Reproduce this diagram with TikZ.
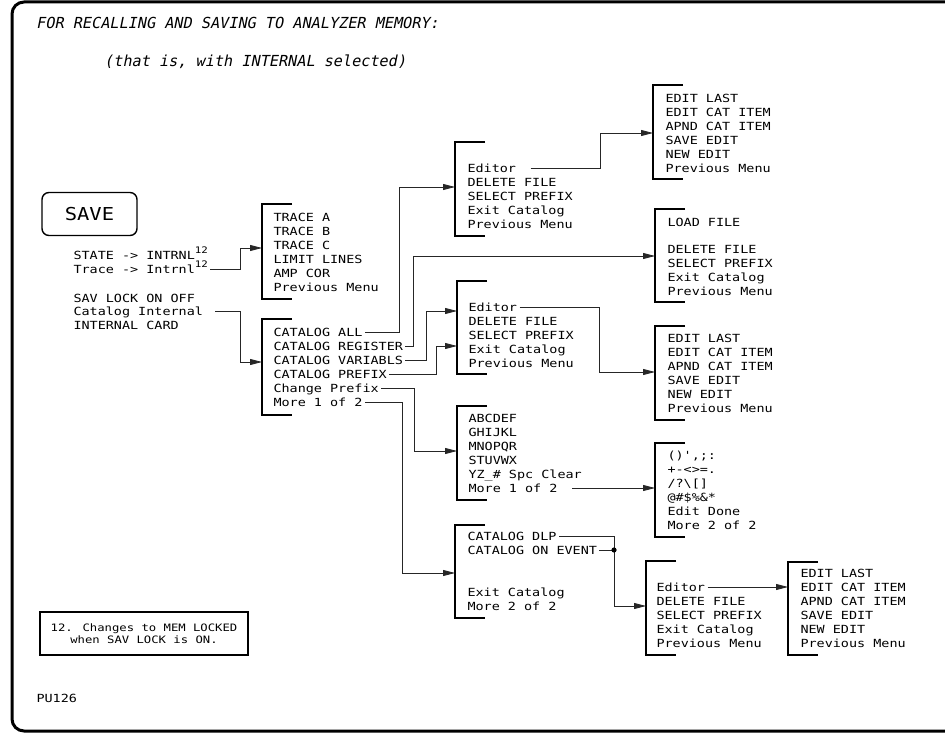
\documentclass[tikz,border=0pt]{standalone}
\usepackage{fontspec}
\newfontfamily\menufont[FakeStretch=1.2]{DejaVu Sans Mono}
\newfontfamily\titlefont[FakeSlant=0.2]{DejaVu Sans Mono}
\newfontfamily\keyfont[FakeStretch=1.15]{DejaVu Sans Mono}
\usetikzlibrary{arrows.meta}

\tikzset{
  item/.style={anchor=west, inner sep=0pt, outer xsep=2.5pt, text height=8.2pt, text depth=0pt,
    font=\menufont\fontsize{11.2pt}{14pt}\selectfont},
  titletext/.style={anchor=west, inner sep=0pt, text height=11pt, text depth=0pt,
    font=\titlefont\fontsize{15.2pt}{17pt}\selectfont},
  conn/.style={line width=0.8pt, black!85, -{Triangle[length=12pt,width=6pt]}},
  wire/.style={line width=0.8pt, black!85},
  bracket/.style={line width=2.4pt},
  savekey/.style={draw, line width=1.4pt, rounded corners=7pt, minimum width=95pt, minimum height=43pt,
    font=\keyfont\fontsize{17.8pt}{20pt}\selectfont},
  note/.style={draw, line width=1.6pt, minimum width=208pt, minimum height=43pt, align=center,
    font=\menufont\fontsize{10.2pt}{12.5pt}\selectfont},
}
\newcommand{\supnote}[1]{\raisebox{5.5pt}{\fontsize{9pt}{9pt}\selectfont #1}}

\begin{document}
\begin{tikzpicture}[x=1pt, y=-1pt]
  \useasboundingbox (0,0) rectangle (945,733);
  % outer frame, open on the right
  \draw[line width=3pt, rounded corners=12pt] (948,2) -- (12,2) -- (12,731) -- (948,731);

  \node[titletext] (title1) at (36,23) {FOR RECALLING AND SAVING TO ANALYZER MEMORY:};
  \node[titletext] (title2) at (104,61) {(that is, with INTERNAL selected)};

  % save key and its softkeys
  \node[savekey] (save) at (89.5,214) {SAVE};
  \node[item] (st1) at (71,255) {STATE -> INTRNL\supnote{12}};
  \node[item] (st2) at (71,269) {Trace -> Intrnl\supnote{12}};
  \node[item] (st3) at (71,298) {SAV LOCK ON OFF};
  \node[item] (st4) at (71,311) {Catalog Internal};
  \node[item] (st5) at (71,325) {INTERNAL CARD};

  % trace menu
  \draw[bracket] (292,204) -- (262,204) -- (262,299) -- (292,299);
  \coordinate (mtr) at (262,248);
  \foreach \t [count=\i] in {TRACE A,TRACE B,TRACE C,LIMIT LINES,AMP COR,Previous Menu}
    \node[item] (tr\i) at (271,{203+14*\i}) {\t};

  % catalog menu
  \draw[bracket] (292,319) -- (262,319) -- (262,415) -- (292,415);
  \coordinate (mca) at (262,362);
  \foreach \t [count=\i] in {CATALOG ALL,CATALOG REGISTER,CATALOG VARIABLS,CATALOG PREFIX,Change Prefix,More 1 of 2}
    \node[item] (ca\i) at (271,{318+14*\i}) {\t};

  % editor menu (catalog all)
  \draw[bracket] (485,142) -- (455,142) -- (455,236) -- (485,236);
  \coordinate (med) at (455,187);
  \foreach \t [count=\i] in {Editor,DELETE FILE,SELECT PREFIX,Exit Catalog,Previous Menu}
    \node[item] (ed\i) at (465,{154+14*\i}) {\t};

  % edit menu, top
  \draw[bracket] (683,85) -- (653,85) -- (653,179) -- (683,179);
  \coordinate (mel) at (653,133);
  \foreach \t [count=\i] in {EDIT LAST,EDIT CAT ITEM,APND CAT ITEM,SAVE EDIT,NEW EDIT,Previous Menu}
    \node[item] (el\i) at (663,{84+14*\i}) {\t};

  % load menu
  \draw[bracket] (685,209) -- (655,209) -- (655,302) -- (685,302);
  \coordinate (mld) at (655,256);
  \foreach \y/\t [count=\i] in {222/LOAD FILE,249/DELETE FILE,263/SELECT PREFIX,277/Exit Catalog,291/Previous Menu}
    \node[item] (ld\i) at (665,\y) {\t};

  % editor menu (register, variables)
  \draw[bracket] (487,281) -- (457,281) -- (457,374) -- (487,374);
  \coordinate (mvaa) at (457,311);
  \coordinate (mvab) at (457,346);
  \foreach \t [count=\i] in {Editor,DELETE FILE,SELECT PREFIX,Exit Catalog,Previous Menu}
    \node[item] (ev\i) at (466,{293+14*\i}) {\t};

  % edit menu, middle
  \draw[bracket] (685,326) -- (655,326) -- (655,420) -- (685,420);
  \coordinate (mem) at (655,372);
  \foreach \t [count=\i] in {EDIT LAST,EDIT CAT ITEM,APND CAT ITEM,SAVE EDIT,NEW EDIT,Previous Menu}
    \node[item] (em\i) at (665,{324+14*\i}) {\t};

  % prefix letters
  \draw[bracket] (487,406) -- (457,406) -- (457,500) -- (487,500);
  \coordinate (mab) at (457,451);
  \foreach \t [count=\i] in {ABCDEF,GHIJKL,MNOPQR,STUVWX,YZ\_\# Spc Clear,More 1 of 2}
    \node[item] (ab\i) at (466,{404+14*\i}) {\t};

  % prefix symbols
  \draw[bracket] (685,443) -- (655,443) -- (655,537) -- (685,537);
  \coordinate (msy) at (655,489);
  \foreach \t [count=\i] in {{()',;:},{+-<>=.},{/?\textbackslash[]},{@\#\$\%\&*},Edit Done,More 2 of 2}
    \node[item] (sy\i) at (665,{441+14*\i}) {\t};

  % catalog more 2 of 2
  \draw[bracket] (485,525) -- (455,525) -- (455,618) -- (485,618);
  \coordinate (mdl) at (455,573);
  \foreach \y/\t [count=\i] in {536/CATALOG DLP,550/CATALOG ON EVENT,592/Exit Catalog,606/More 2 of 2}
    \node[item] (dl\i) at (465,\y) {\t};

  % editor menu, bottom
  \draw[bracket] (676,561) -- (646,561) -- (646,655) -- (676,655);
  \coordinate (meb) at (646,606);
  \foreach \t [count=\i] in {Editor,DELETE FILE,SELECT PREFIX,Exit Catalog,Previous Menu}
    \node[item] (eb\i) at (654,{573+14*\i}) {\t};

  % edit menu, bottom
  \draw[bracket] (818,562) -- (788,562) -- (788,655) -- (818,655);
  \foreach \t [count=\i] in {EDIT LAST,EDIT CAT ITEM,APND CAT ITEM,SAVE EDIT,NEW EDIT,Previous Menu}
    \node[item] (ez\i) at (798,{559+14*\i}) {\t};
  \coordinate (mez) at (788,587);

  % connectors
  \draw[conn] (st2.east) -| ([xshift=-22pt]mtr) -- (mtr);
  \draw[conn] ([xshift=10pt]st4.east) -| ([xshift=-22pt]mca) -- (mca);
  \draw[conn] (ca1.east) -| ([xshift=-56pt]med) -- (med);
  \draw[conn] (ca2.east) -| ([xshift=-242pt]mld) -- (mld);
  \draw[conn] (ca3.east) -| ([xshift=-31pt]mvaa) -- (mvaa);
  \draw[conn] (ca4.east) -| ([xshift=-21pt]mvab) -- (mvab);
  \draw[conn] (ca5.east) -| ([xshift=-43pt]mab) -- (mab);
  \draw[conn] (ca6.east) -| ([xshift=-53pt]mdl) -- (mdl);
  \draw[conn] ([xshift=12pt]ed1.east) -| ([xshift=-53pt]mel) -- (mel);
  \draw[conn] (ev1.east) -| ([xshift=-56pt]mem) -- (mem);
  \draw[conn] ([xshift=12pt]ab6.east) -- (ab6.east -| msy);
  \draw[conn] (dl1.east) -| ([xshift=-32pt]meb) -- (meb);
  \coordinate (join) at (614,550);
  \draw[wire] (dl2.east) -- (join);
  \fill (join) circle (2.6pt);
  \draw[conn] (eb1.east) -- (eb1.east -| mez);

  % footnote
  \node[note] (fn) at (144,633.5) {12. Changes to MEM LOCKED\\when SAV LOCK is ON.};
  \node[item] (pu) at (34,698) {PU126};
\end{tikzpicture}
\end{document}
